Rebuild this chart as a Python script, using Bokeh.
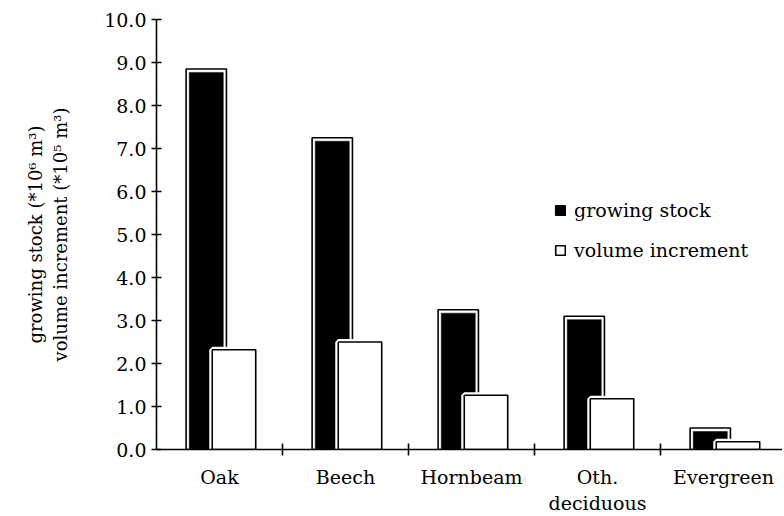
from bokeh.plotting import figure
from bokeh.models import (ColumnDataSource, FixedTicker, NumeralTickFormatter,
                          Legend, LegendItem, Range1d)
from bokeh.embed import file_html
from bokeh.resources import INLINE

# ---- data ----
categories = ["Oak", "Beech", "Hornbeam", "Oth.\ndeciduous", "Evergreen"]
growing_stock = [8.85, 7.25, 3.25, 3.1, 0.5]        # *10^6 m3
volume_increment = [2.32, 2.5, 1.26, 1.18, 0.18]    # *10^5 m3
y_ticks = [0, 1, 2, 3, 4, 5, 6, 7, 8, 9, 10]

FONT = "DejaVu Serif"

# ---- layout / style ----
n = len(categories)
centers = [i + 0.5 for i in range(n)]
dark_off, white_off = -0.105, 0.115
dark_w, white_w = 0.32, 0.345
inset_x, inset_y = 0.05, 0.08
FW = 626

src = ColumnDataSource(dict(
    xd=[c + dark_off for c in centers],
    xw=[c + white_off for c in centers],
    gs=growing_stock,
    gs_in=[v - inset_y for v in growing_stock],
    vi=volume_increment,
))

p = figure(frame_width=FW, frame_height=430,
           min_border_left=156, min_border_right=0, min_border_top=19,
           min_border_bottom=55,
           x_range=Range1d(0, FW / 126), y_range=Range1d(0, 10),
           output_backend="svg", toolbar_location=None)
p.outline_line_color = None
p.xgrid.grid_line_color = None
p.ygrid.grid_line_color = None
p.background_fill_color = "white"

# growing stock: outlined box with inner black fill
r_out = p.vbar(x="xd", top="gs", bottom=0, width=dark_w, source=src,
               fill_color="white", line_color="black", line_width=1.6)
r_in = p.vbar(x="xd", top="gs_in", bottom=0, width=dark_w - inset_x, source=src,
              fill_color="black", line_color="black", line_width=0.5)
# volume increment: white box with white halo
p.vbar(x="xw", top="vi", bottom=0, width=white_w, source=src,
       fill_color="white", line_color="white", line_width=6)
r_vi = p.vbar(x="xw", top="vi", bottom=0, width=white_w, source=src,
              fill_color="white", line_color="black", line_width=1.6)

# ---- axes ----
ya = p.yaxis[0]
ya.ticker = FixedTicker(ticks=y_ticks)
ya.formatter = NumeralTickFormatter(format="0.0")
ya.major_tick_in = 5
ya.major_tick_out = 5
ya.minor_tick_line_color = None
ya.axis_line_width = 1.6
ya.major_tick_line_width = 1.6
ya.major_label_text_font = FONT
ya.major_label_text_font_size = "19px"
ya.major_label_text_color = "black"
ya.major_label_standoff = 5
ya.axis_label = "growing stock (*10\u2076 m\u00b3)\nvolume increment (*10\u2075 m\u00b3)"
ya.axis_label_text_font = FONT
ya.axis_label_text_font_size = "18px"
ya.axis_label_text_font_style = "normal"
ya.axis_label_text_color = "black"
ya.axis_label_standoff = 30

xa = p.xaxis[0]
xa.ticker = FixedTicker(ticks=centers, minor_ticks=[1, 2, 3, 4])
xa.major_label_overrides = {c: lab for c, lab in zip(centers, categories)}
xa.major_tick_line_color = None
xa.minor_tick_in = 6
xa.minor_tick_out = 6
xa.minor_tick_line_width = 1.6
xa.minor_tick_line_color = "black"
xa.axis_line_width = 1.6
xa.major_label_text_font = FONT
xa.major_label_text_font_size = "19px"
xa.major_label_text_color = "black"
xa.major_label_standoff = 10

legend = Legend(items=[
    LegendItem(label="growing stock", renderers=[r_out, r_in]),
    LegendItem(label="volume increment", renderers=[r_vi]),
], location=(398, 188))
legend.border_line_color = None
legend.background_fill_alpha = 0
legend.padding = 0
legend.margin = 0
legend.glyph_width = 12
legend.glyph_height = 12
legend.label_height = 20
legend.spacing = 18
legend.label_standoff = 8
legend.label_text_font = FONT
legend.label_text_font_size = "19px"
legend.label_text_color = "black"
p.add_layout(legend, "center")

open("out.html", "w").write(file_html(p, INLINE))
